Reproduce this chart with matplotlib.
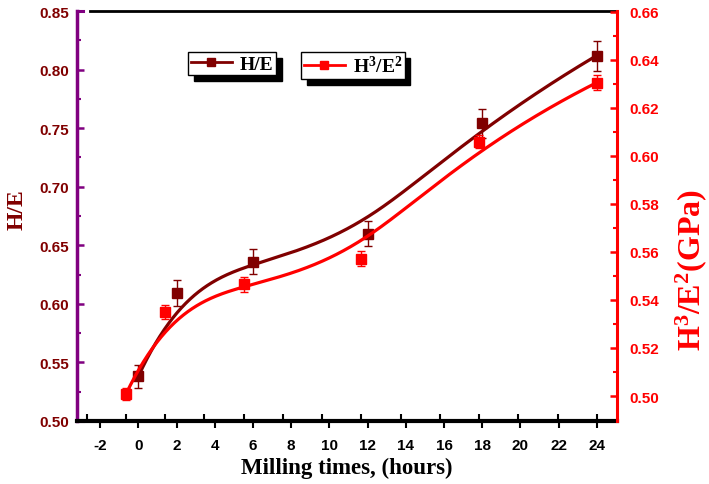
import numpy as np
import matplotlib
matplotlib.use("Agg")
import matplotlib.pyplot as plt
from matplotlib.lines import Line2D

plt.rcParams["mathtext.fontset"] = "custom"
plt.rcParams["mathtext.rm"] = "Liberation Serif:bold"
plt.rcParams["mathtext.bf"] = "Liberation Serif:bold"
plt.rcParams["mathtext.it"] = "Liberation Serif:bold"

# ---- data ----
hours = [0, 2, 6, 12, 18, 24]
h_e = [0.538, 0.609, 0.636, 0.660, 0.754, 0.812]
h_e_err = [0.010, 0.011, 0.0105, 0.011, 0.0125, 0.0128]
h3_e2 = [0.5007, 0.535, 0.5465, 0.5572, 0.6058, 0.6305]
h3_e2_err = [0.0025, 0.0028, 0.003, 0.003, 0.0027, 0.003]
x_ticks = [-2, 0, 2, 4, 6, 8, 10, 12, 14, 16, 18, 20, 22, 24]
left_ticks = [0.50, 0.55, 0.60, 0.65, 0.70, 0.75, 0.80, 0.85]
right_ticks = [0.50, 0.52, 0.54, 0.56, 0.58, 0.60, 0.62, 0.64, 0.66]

DARK = "#800000"
RED = "#ff0000"
PURPLE = "#800080"
SERIF = "Liberation Serif"
SANS = "Liberation Sans"


def bspline(xs, ys, n=400, k=3):
    """Clamped cubic B-spline using the data points as control points
    (the 'B-Spline' connection style of the original plot)."""
    P = np.column_stack([xs, ys]).astype(float)
    m = len(P)
    knots = np.concatenate([np.zeros(k), np.linspace(0, 1, m - k + 1), np.ones(k)])
    t = np.linspace(0, 1, n)
    N = np.zeros((n, len(knots) - 1))
    for i in range(len(knots) - 1):
        N[:, i] = (t >= knots[i]) & (t < knots[i + 1])
    N[-1, :] = 0
    N[-1, m - 1] = 1
    for d in range(1, k + 1):
        Nn = np.zeros((n, len(knots) - 1 - d))
        for i in range(len(knots) - 1 - d):
            a = knots[i + d] - knots[i]
            b = knots[i + d + 1] - knots[i + 1]
            t1 = (t - knots[i]) / a * N[:, i] if a > 0 else 0
            t2 = (knots[i + d + 1] - t) / b * N[:, i + 1] if b > 0 else 0
            Nn[:, i] = t1 + t2
        N = Nn
    C = N @ P
    return C[:, 0], C[:, 1]


fig = plt.figure(figsize=(7.09, 4.85), dpi=100)
pos = [77 / 709, 63 / 485, 540 / 709, 410 / 485]

# main axes: H/E vs milling time (left axis)
ax = fig.add_axes(pos)
ax.set_xlim(-3.21, 25.06)
ax.set_ylim(0.50, 0.85)

# overlay axes: H3/E2 (right axis, own x scale)
axr = fig.add_axes(pos)
axr.set_xlim(-2.49, 25.03)
axr.set_ylim(0.4896, 0.6603)
axr.patch.set_visible(False)

# curves
cx, cy = bspline(hours, h_e)
ax.plot(cx, cy, color=DARK, lw=2.3, zorder=3)
ax.errorbar(hours, h_e, yerr=h_e_err, fmt="s", color=DARK, ms=6.5,
            ecolor=DARK, elinewidth=1.0, capsize=3, capthick=1.0, zorder=4)

rx, ry = bspline(hours, h3_e2)
axr.plot(rx, ry, color=RED, lw=2.3, zorder=3)
axr.errorbar(hours, h3_e2, yerr=h3_e2_err, fmt="s", color=RED, ms=6.5,
             ecolor=RED, elinewidth=1.0, capsize=3, capthick=1.0, zorder=4)

# ---- spines ----
for s in ["top", "right"]:
    ax.spines[s].set_visible(False)
ax.spines["left"].set_color(PURPLE)
ax.spines["left"].set_linewidth(2.5)
ax.spines["bottom"].set_color("black")
ax.spines["bottom"].set_linewidth(3)

for s in ["top", "left", "bottom"]:
    axr.spines[s].set_visible(False)
axr.spines["right"].set_color(RED)
axr.spines["right"].set_linewidth(2.2)

# top black line (starts a bit right of left spine) and purple caps
ax.add_line(Line2D([0.024, 1.0], [1.0, 1.0], transform=ax.transAxes,
                   color="black", lw=2, clip_on=False))
ax.add_line(Line2D([0.0, 0.012], [1.0, 1.0], transform=ax.transAxes,
                   color=PURPLE, lw=2.2, clip_on=False))
ax.add_line(Line2D([0.0, 0.012], [0.0, 0.0], transform=ax.transAxes,
                   color=PURPLE, lw=2.2, clip_on=False))

# ---- ticks ----
ax.set_xticks(x_ticks)
ax.set_xticklabels([str(v) for v in x_ticks])
ax.tick_params(axis="x", direction="out", length=5, width=1.5, pad=7,
               labelsize=11, colors="black")
ax.set_yticks(left_ticks)
ax.set_yticklabels([f"{v:.2f}" for v in left_ticks])
ax.set_yticks(np.arange(0.525, 0.85, 0.05), minor=True)
ax.tick_params(axis="y", which="major", direction="in", length=5, width=1.8,
               color=PURPLE, labelcolor=DARK, labelsize=11, pad=6)
ax.tick_params(axis="y", which="minor", direction="in", length=3, width=1.5,
               color=PURPLE)

axr.set_xticks(x_ticks)
axr.tick_params(axis="x", direction="in", length=5, width=1.5,
                labelbottom=False, color="black")
axr.yaxis.set_ticks_position("right")
axr.set_yticks(right_ticks)
axr.set_yticklabels([f"{v:.2f}" for v in right_ticks])
axr.set_yticks(np.arange(0.51, 0.66, 0.02), minor=True)
axr.tick_params(axis="y", which="major", direction="in", length=5, width=1.8,
                color=RED, labelcolor=RED, labelsize=11, pad=9,
                left=False, right=True, labelleft=False, labelright=True)
axr.tick_params(axis="y", which="minor", direction="in", length=3, width=1.5,
                color=RED, left=False, right=True)

for lab in ax.get_xticklabels() + ax.get_yticklabels() + axr.get_yticklabels():
    lab.set_fontfamily(SANS)
    lab.set_fontweight("bold")

# ---- axis titles ----
fig.text(347 / 709, 1 - 468 / 485, "Milling times, (hours)", ha="center",
         va="center", fontsize=16.5, fontweight="bold", family=SERIF)
fig.text(17 / 709, 1 - 210 / 485, "H/E", ha="center", va="center",
         rotation=90, fontsize=17, fontweight="bold", family=SERIF, color=DARK)
fig.text(691 / 709, 1 - 270 / 485, r"$\mathbf{H^{3}/E^{2}(GPa)}$",
         ha="center", va="center", rotation=90, fontsize=23, color=RED)

# ---- legends (two separate boxes with shadows) ----
prop = dict(family=SERIF, weight="bold", size=14)
h1 = Line2D([], [], color=DARK, lw=2, marker="s", ms=6)
h2 = Line2D([], [], color=RED, lw=2, marker="s", ms=6)
common = dict(loc="upper left", prop=prop, fancybox=False, framealpha=1,
              edgecolor="black", borderpad=0.15, handlelength=2.1,
              handletextpad=0.4, borderaxespad=0,
              shadow={"ox": 4, "oy": -4, "color": "black", "alpha": 1})
leg1 = fig.legend(handles=[h1], labels=["H/E"],
                  bbox_to_anchor=(188 / 709, 1 - 53 / 485), **common)
leg2 = fig.legend(handles=[h2], labels=[r"$\mathbf{H^{3}/E^{2}}$"],
                  bbox_to_anchor=(301 / 709, 1 - 53 / 485), **common)
for lg in (leg1, leg2):
    lg.get_frame().set_linewidth(1.0)

fig.savefig("out.png", dpi=100)
